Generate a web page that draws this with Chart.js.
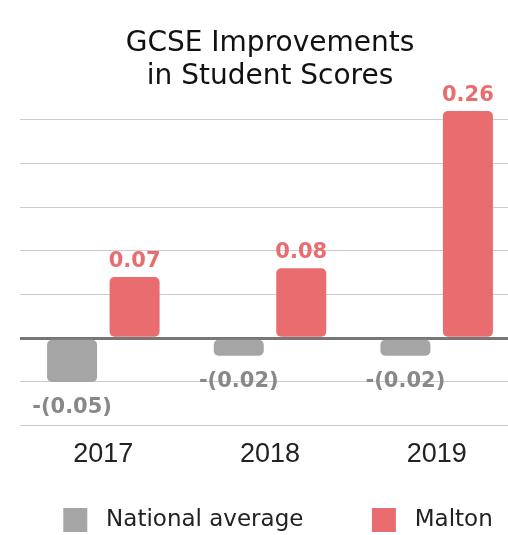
<!DOCTYPE html>
<html>
<head>
<meta charset="utf-8">
<script src="https://cdn.jsdelivr.net/npm/chart.js@4"></script>
<style>
  html, body { margin: 0; padding: 0; background: #fff; overflow: hidden; }
  #wrap { width: 530px; height: 535px; }
</style>
</head>
<body>
<div id="wrap"><canvas id="chart" width="530" height="535"></canvas></div>
<script>
// ── Data ──
const years = ['2017', '2018', '2019'];
const nationalAverage = [-0.05, -0.02, -0.02];
const malton = [0.07, 0.08, 0.26];
const gridValues = [-0.1, -0.05, 0, 0.05, 0.1, 0.15, 0.2, 0.25];
const titleLines = ['GCSE Improvements', 'in Student Scores'];

const RED = '#E96C6E';
const GREY = '#A5A5A6';
const SANS = '"DejaVu Sans", sans-serif';

function fmtValue(v) {
  return v < 0 ? '-(' + Math.abs(v).toFixed(2) + ')' : v.toFixed(2);
}

// value labels above / below each bar
const valueLabels = {
  id: 'valueLabels',
  afterLayout(chart) {
    // nudge the legend row a little to the right
    chart.legend.left += 8;
    chart.legend.right += 8;
  },
  afterDatasetsDraw(chart) {
    const { ctx } = chart;
    ctx.save();
    ctx.font = 'bold 21px ' + SANS;
    ctx.textAlign = 'center';
    ctx.textBaseline = 'alphabetic';
    chart.data.datasets.forEach((ds, i) => {
      chart.getDatasetMeta(i).data.forEach((bar, j) => {
        const v = ds.data[j];
        ctx.fillStyle = ds.labelColor;
        ctx.fillText(fmtValue(v), bar.x, v >= 0 ? bar.y - 10 : bar.y + 31);
      });
    });
    ctx.restore();
  }
};

new Chart(document.getElementById('chart'), {
  type: 'bar',
  data: {
    labels: years,
    datasets: [
      {
        label: 'National average',
        data: nationalAverage,
        backgroundColor: GREY,
        labelColor: '#888888',
        borderRadius: 5,
        borderSkipped: false,
      },
      {
        label: 'Malton',
        data: malton,
        backgroundColor: RED,
        labelColor: RED,
        borderRadius: 5,
        borderSkipped: false,
      },
    ],
  },
  options: {
    responsive: false,
    animation: false,
    layout: { padding: { left: 20, right: 10, top: 0, bottom: -7 } },
    datasets: { bar: { categoryPercentage: 0.75, barPercentage: 0.8 } },
    plugins: {
      title: {
        display: true,
        text: titleLines,
        color: '#111',
        font: { family: SANS, size: 28, weight: 'normal', lineHeight: 1.18 },
        padding: { top: 27, bottom: 18 },
      },
      legend: {
        position: 'bottom',
        labels: {
          color: '#222',
          font: { family: SANS, size: 23 },
          boxWidth: 24,
          boxHeight: 24,
          padding: 10,
          generateLabels(chart) {
            return Chart.defaults.plugins.legend.labels.generateLabels(chart).map((l, i) => {
              l.text = ' ' + l.text + (i === 0 ? '        ' : '');
              return l;
            });
          },
        },
      },
      tooltip: { enabled: false },
    },
    scales: {
      x: {
        grid: { display: false },
        border: { display: false },
        ticks: { color: '#222', font: { family: '"Liberation Sans", Arial, sans-serif', size: 27, lineHeight: 1.2 }, padding: 5 },
        title: { display: true, text: ' ', font: { size: 10, lineHeight: 1 }, padding: { top: 6, bottom: 6 } },
      },
      y: {
        min: -0.1,
        max: 0.26,
        border: { display: false },
        afterBuildTicks: axis => { axis.ticks = gridValues.map(v => ({ value: v })); },
        ticks: { display: false },
        grid: {
          drawTicks: false,
          color: c => (Math.round(c.tick.value * 100) === 0 ? '#777' : '#cccccc'),
          lineWidth: c => (Math.round(c.tick.value * 100) === 0 ? 3 : 1),
        },
      },
    },
  },
  plugins: [valueLabels],
});
</script>
</body>
</html>
